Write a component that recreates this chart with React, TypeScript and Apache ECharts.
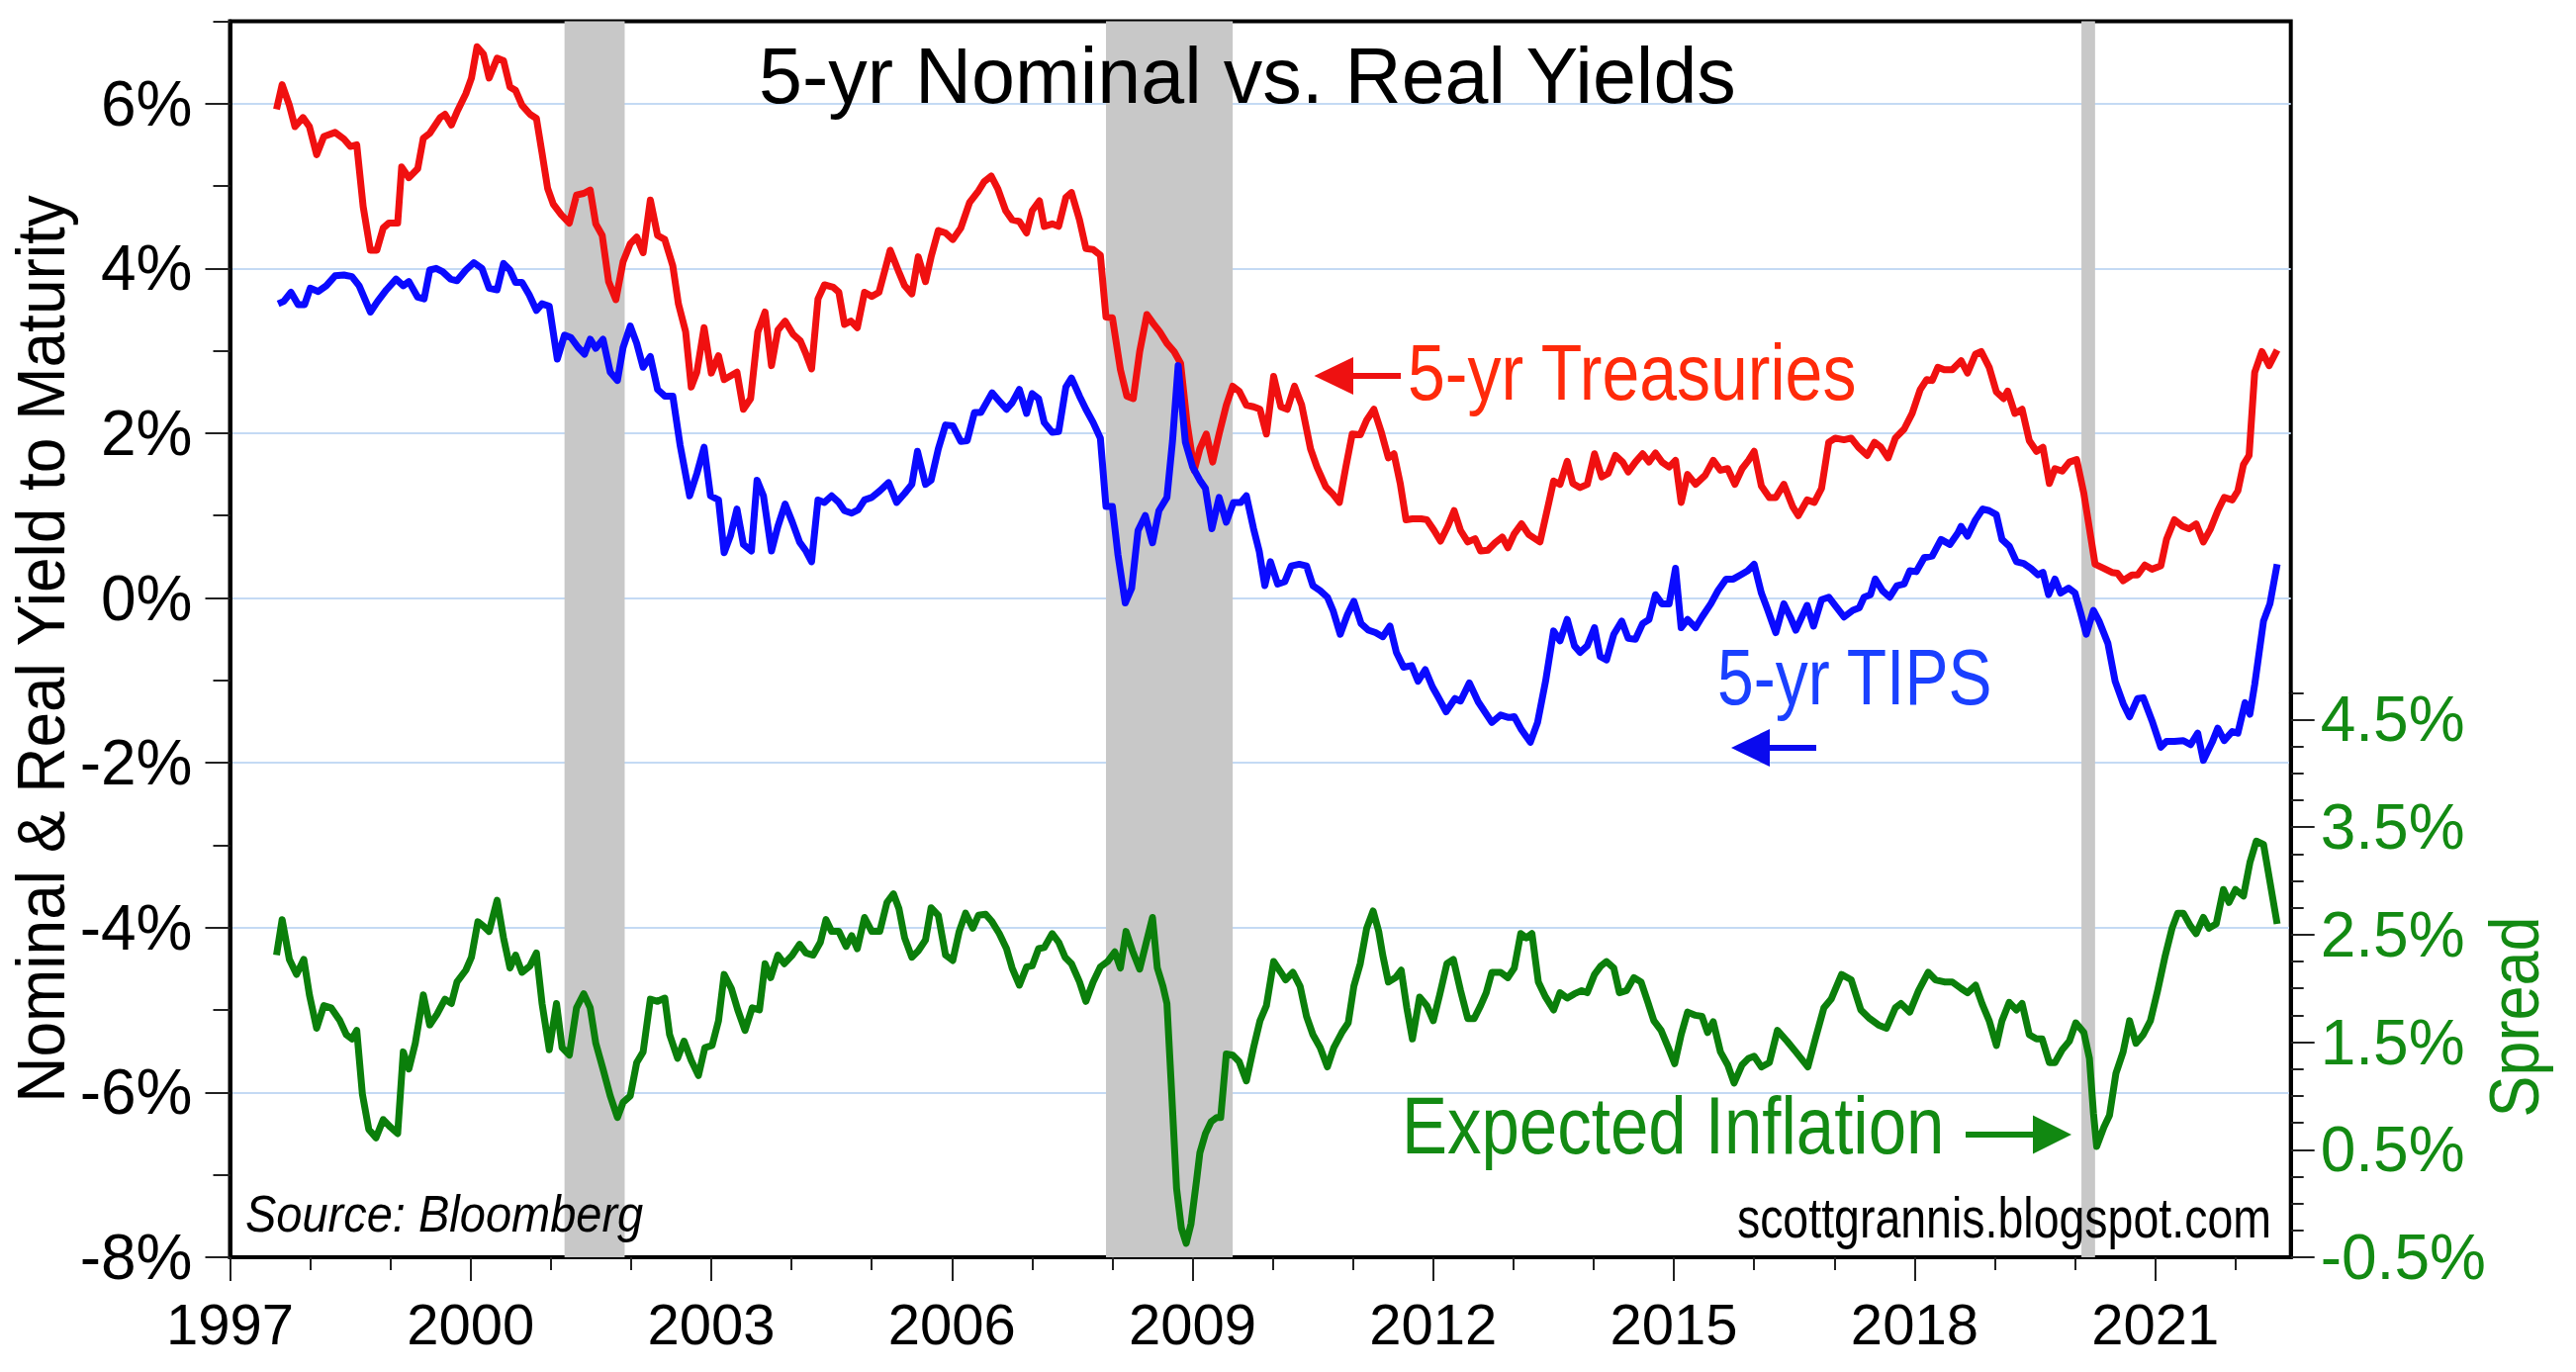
import React, { useEffect, useRef } from 'react';
import * as echarts from 'echarts';

// ---------------- data ----------------
const treasury: [number, number][] = [
  [1997.58,5.93],[1997.65,6.23],[1997.74,5.98],[1997.81,5.72],[1997.91,5.83],[1997.99,5.72],[1998.08,5.38],[1998.17,5.60],
  [1998.31,5.65],[1998.42,5.57],[1998.50,5.48],[1998.58,5.50],[1998.66,4.75],[1998.75,4.22],[1998.83,4.22],[1998.91,4.49],
  [1998.98,4.55],[1999.09,4.55],[1999.14,5.23],[1999.23,5.10],[1999.34,5.21],[1999.41,5.58],[1999.49,5.64],[1999.62,5.83],
  [1999.68,5.87],[1999.76,5.74],[1999.83,5.90],[1999.94,6.12],[2000.01,6.31],[2000.08,6.69],[2000.16,6.60],[2000.23,6.31],
  [2000.33,6.55],[2000.41,6.52],[2000.49,6.20],[2000.56,6.16],[2000.64,5.98],[2000.74,5.87],[2000.82,5.82],[2000.89,5.40],
  [2000.96,4.97],[2001.03,4.78],[2001.13,4.65],[2001.23,4.55],[2001.32,4.89],[2001.41,4.91],[2001.49,4.95],[2001.56,4.54],
  [2001.64,4.40],[2001.72,3.84],[2001.81,3.62],[2001.90,4.08],[2001.99,4.30],[2002.07,4.38],[2002.15,4.19],[2002.24,4.83],
  [2002.33,4.40],[2002.42,4.35],[2002.52,4.03],[2002.59,3.57],[2002.68,3.23],[2002.75,2.56],[2002.82,2.74],[2002.91,3.28],
  [2003.00,2.73],[2003.09,2.94],[2003.16,2.65],[2003.32,2.74],[2003.40,2.29],[2003.49,2.42],[2003.58,3.23],[2003.67,3.47],
  [2003.75,2.82],[2003.83,3.25],[2003.92,3.36],[2004.02,3.20],[2004.11,3.12],[2004.18,2.96],[2004.25,2.78],[2004.33,3.63],
  [2004.41,3.80],[2004.52,3.77],[2004.59,3.71],[2004.66,3.32],[2004.74,3.36],[2004.82,3.28],[2004.91,3.71],[2005.00,3.66],
  [2005.09,3.71],[2005.17,4.00],[2005.23,4.22],[2005.34,3.95],[2005.41,3.79],[2005.50,3.69],[2005.58,4.14],[2005.67,3.84],
  [2005.74,4.14],[2005.83,4.46],[2005.92,4.43],[2006.01,4.35],[2006.11,4.49],[2006.22,4.80],[2006.33,4.94],[2006.40,5.05],
  [2006.49,5.12],[2006.57,4.97],[2006.67,4.70],[2006.75,4.59],[2006.84,4.57],[2006.93,4.43],[2007.00,4.70],[2007.09,4.82],
  [2007.15,4.51],[2007.25,4.54],[2007.33,4.51],[2007.42,4.86],[2007.49,4.92],[2007.59,4.59],[2007.67,4.24],[2007.76,4.23],
  [2007.85,4.16],[2007.92,3.41],[2008.00,3.40],[2008.10,2.77],[2008.18,2.45],[2008.26,2.42],[2008.34,2.99],[2008.43,3.44],
  [2008.51,3.33],[2008.59,3.23],[2008.68,3.09],[2008.77,2.99],[2008.85,2.85],[2008.93,2.13],[2009.02,1.55],[2009.09,1.81],
  [2009.17,1.99],[2009.25,1.65],[2009.33,1.99],[2009.42,2.34],[2009.50,2.57],[2009.58,2.51],[2009.67,2.34],[2009.76,2.32],
  [2009.84,2.29],[2009.92,1.99],[2010.01,2.69],[2010.10,2.32],[2010.18,2.29],[2010.27,2.57],[2010.36,2.34],[2010.47,1.81],
  [2010.55,1.59],[2010.66,1.35],[2010.75,1.26],[2010.83,1.16],[2010.91,1.59],[2010.99,1.99],[2011.09,1.98],[2011.17,2.16],
  [2011.26,2.29],[2011.35,2.02],[2011.44,1.70],[2011.51,1.75],[2011.59,1.38],[2011.66,0.95],[2011.74,0.96],[2011.85,0.96],
  [2011.92,0.95],[2012.01,0.82],[2012.09,0.69],[2012.18,0.87],[2012.26,1.06],[2012.34,0.82],[2012.43,0.68],[2012.52,0.72],
  [2012.59,0.57],[2012.68,0.58],[2012.77,0.67],[2012.86,0.74],[2012.93,0.61],[2013.01,0.78],[2013.10,0.90],[2013.19,0.77],
  [2013.33,0.68],[2013.43,1.11],[2013.50,1.42],[2013.58,1.38],[2013.67,1.66],[2013.74,1.39],[2013.83,1.34],[2013.92,1.38],
  [2014.01,1.75],[2014.10,1.47],[2014.18,1.51],[2014.27,1.73],[2014.36,1.65],[2014.43,1.53],[2014.52,1.65],[2014.61,1.75],
  [2014.69,1.65],[2014.77,1.76],[2014.85,1.65],[2014.94,1.59],[2015.02,1.67],[2015.09,1.16],[2015.17,1.50],[2015.27,1.38],
  [2015.39,1.49],[2015.49,1.67],[2015.58,1.55],[2015.67,1.57],[2015.76,1.38],[2015.85,1.57],[2015.93,1.67],[2016.00,1.78],
  [2016.09,1.36],[2016.19,1.22],[2016.27,1.22],[2016.37,1.38],[2016.48,1.11],[2016.55,1.00],[2016.66,1.19],[2016.75,1.16],
  [2016.84,1.33],[2016.93,1.89],[2017.01,1.94],[2017.12,1.92],[2017.21,1.94],[2017.30,1.83],[2017.41,1.73],[2017.50,1.89],
  [2017.58,1.83],[2017.67,1.70],[2017.76,1.94],[2017.87,2.05],[2017.97,2.24],[2018.07,2.53],[2018.15,2.65],[2018.22,2.64],
  [2018.29,2.80],[2018.37,2.77],[2018.47,2.77],[2018.58,2.88],[2018.66,2.73],[2018.76,2.96],[2018.83,2.99],[2018.93,2.80],
  [2019.02,2.50],[2019.11,2.42],[2019.16,2.51],[2019.25,2.24],[2019.34,2.29],[2019.43,1.91],[2019.52,1.78],[2019.60,1.83],
  [2019.68,1.39],[2019.75,1.57],[2019.84,1.54],[2019.93,1.65],[2020.02,1.68],[2020.11,1.27],[2020.18,0.84],[2020.25,0.41],
  [2020.36,0.36],[2020.46,0.31],[2020.53,0.30],[2020.60,0.21],[2020.71,0.28],[2020.78,0.28],[2020.87,0.40],[2020.96,0.35],
  [2021.07,0.39],[2021.14,0.71],[2021.24,0.95],[2021.34,0.87],[2021.42,0.84],[2021.51,0.90],[2021.60,0.68],[2021.69,0.84],
  [2021.78,1.06],[2021.86,1.22],[2021.96,1.19],[2022.03,1.30],[2022.10,1.62],[2022.17,1.73],[2022.24,2.74],[2022.33,2.99],
  [2022.42,2.82],[2022.52,3.01]
];

const tips: [number, number][] = [
  [1997.60,3.57],[1997.67,3.60],[1997.76,3.71],[1997.85,3.56],[1997.93,3.56],[1998.00,3.76],[1998.10,3.72],[1998.20,3.79],
  [1998.31,3.91],[1998.42,3.92],[1998.52,3.90],[1998.61,3.79],[1998.68,3.63],[1998.75,3.47],[1998.84,3.60],[1998.95,3.74],
  [1999.07,3.87],[1999.16,3.79],[1999.23,3.84],[1999.34,3.65],[1999.42,3.63],[1999.49,3.98],[1999.57,4.00],[1999.65,3.96],
  [1999.75,3.87],[1999.83,3.85],[1999.94,3.98],[2000.04,4.07],[2000.14,4.00],[2000.23,3.76],[2000.33,3.74],[2000.41,4.06],
  [2000.49,3.98],[2000.56,3.83],[2000.64,3.83],[2000.73,3.68],[2000.82,3.49],[2000.89,3.57],[2000.98,3.54],[2001.08,2.90],
  [2001.17,3.19],[2001.25,3.16],[2001.34,3.04],[2001.42,2.96],[2001.49,3.14],[2001.56,3.03],[2001.65,3.14],[2001.74,2.74],
  [2001.83,2.64],[2001.90,3.04],[2001.99,3.30],[2002.07,3.09],[2002.15,2.80],[2002.24,2.93],[2002.33,2.53],[2002.42,2.45],
  [2002.52,2.45],[2002.61,1.86],[2002.73,1.24],[2002.82,1.51],[2002.91,1.83],[2002.99,1.24],[2003.09,1.19],[2003.16,0.55],
  [2003.24,0.76],[2003.32,1.08],[2003.40,0.65],[2003.50,0.57],[2003.57,1.43],[2003.65,1.24],[2003.75,0.57],[2003.83,0.87],
  [2003.92,1.14],[2004.01,0.92],[2004.10,0.68],[2004.18,0.57],[2004.25,0.44],[2004.33,1.19],[2004.41,1.16],[2004.50,1.24],
  [2004.59,1.16],[2004.66,1.06],[2004.75,1.03],[2004.83,1.07],[2004.91,1.19],[2005.00,1.22],[2005.10,1.30],[2005.21,1.40],
  [2005.31,1.16],[2005.41,1.27],[2005.50,1.38],[2005.57,1.78],[2005.67,1.38],[2005.74,1.43],[2005.83,1.81],[2005.92,2.10],
  [2006.01,2.09],[2006.11,1.90],[2006.19,1.91],[2006.28,2.25],[2006.36,2.25],[2006.43,2.37],[2006.50,2.49],[2006.59,2.39],
  [2006.68,2.29],[2006.75,2.37],[2006.84,2.53],[2006.93,2.24],[2007.00,2.48],[2007.08,2.42],[2007.15,2.13],[2007.25,2.01],
  [2007.33,2.02],[2007.42,2.56],[2007.49,2.67],[2007.59,2.45],[2007.67,2.29],[2007.76,2.13],[2007.85,1.94],[2007.92,1.11],
  [2008.00,1.11],[2008.07,0.52],[2008.16,-0.06],[2008.24,0.12],[2008.32,0.82],[2008.41,1.00],[2008.50,0.67],[2008.58,1.06],
  [2008.68,1.22],[2008.75,1.91],[2008.82,2.82],[2008.91,1.89],[2009.00,1.59],[2009.09,1.43],[2009.16,1.33],[2009.24,0.84],
  [2009.33,1.22],[2009.42,0.92],[2009.51,1.16],[2009.60,1.16],[2009.67,1.24],[2009.76,0.84],[2009.83,0.57],[2009.90,0.15],
  [2009.97,0.44],[2010.06,0.17],[2010.15,0.20],[2010.23,0.39],[2010.33,0.41],[2010.42,0.39],[2010.50,0.15],[2010.59,0.09],
  [2010.68,0.01],[2010.75,-0.15],[2010.84,-0.44],[2010.93,-0.20],[2011.01,-0.04],[2011.10,-0.31],[2011.19,-0.39],[2011.28,-0.42],
  [2011.37,-0.47],[2011.46,-0.34],[2011.54,-0.66],[2011.63,-0.84],[2011.73,-0.82],[2011.81,-1.01],[2011.90,-0.87],[2011.99,-1.08],
  [2012.06,-1.20],[2012.16,-1.38],[2012.27,-1.22],[2012.34,-1.25],[2012.45,-1.03],[2012.56,-1.26],[2012.73,-1.51],[2012.84,-1.42],
  [2012.94,-1.45],[2013.01,-1.44],[2013.10,-1.60],[2013.21,-1.75],[2013.30,-1.51],[2013.40,-1.01],[2013.50,-0.40],[2013.58,-0.52],
  [2013.67,-0.26],[2013.76,-0.58],[2013.83,-0.66],[2013.92,-0.58],[2014.01,-0.36],[2014.08,-0.71],[2014.16,-0.75],[2014.25,-0.44],
  [2014.35,-0.28],[2014.43,-0.49],[2014.52,-0.50],[2014.61,-0.31],[2014.69,-0.26],[2014.77,0.04],[2014.85,-0.07],[2014.94,-0.07],
  [2015.02,0.36],[2015.09,-0.36],[2015.17,-0.26],[2015.27,-0.36],[2015.35,-0.23],[2015.46,-0.07],[2015.55,0.09],[2015.65,0.23],
  [2015.74,0.23],[2015.83,0.28],[2015.92,0.33],[2016.00,0.41],[2016.09,0.06],[2016.16,-0.12],[2016.27,-0.42],[2016.37,-0.07],
  [2016.45,-0.23],[2016.52,-0.39],[2016.66,-0.09],[2016.74,-0.34],[2016.84,-0.02],[2016.93,0.01],[2017.01,-0.09],[2017.12,-0.23],
  [2017.23,-0.15],[2017.31,-0.12],[2017.37,0.01],[2017.45,0.04],[2017.51,0.23],[2017.60,0.09],[2017.69,0.01],[2017.78,0.15],
  [2017.87,0.17],[2017.94,0.33],[2018.02,0.32],[2018.12,0.49],[2018.22,0.51],[2018.33,0.71],[2018.44,0.65],[2018.54,0.79],
  [2018.58,0.87],[2018.66,0.75],[2018.76,0.95],[2018.85,1.08],[2018.93,1.06],[2019.02,1.01],[2019.09,0.71],[2019.18,0.63],
  [2019.27,0.44],[2019.36,0.42],[2019.45,0.36],[2019.54,0.28],[2019.60,0.31],[2019.67,0.04],[2019.75,0.23],[2019.82,0.06],
  [2019.92,0.12],[2020.00,0.06],[2020.07,-0.18],[2020.14,-0.44],[2020.23,-0.15],[2020.30,-0.28],[2020.41,-0.55],[2020.50,-1.01],
  [2020.60,-1.28],[2020.68,-1.44],[2020.78,-1.22],[2020.85,-1.21],[2020.96,-1.49],[2021.07,-1.81],[2021.14,-1.74],[2021.24,-1.74],
  [2021.35,-1.73],[2021.44,-1.78],[2021.53,-1.64],[2021.60,-1.97],[2021.71,-1.75],[2021.78,-1.58],[2021.86,-1.73],[2021.96,-1.62],
  [2022.03,-1.64],[2022.12,-1.27],[2022.18,-1.41],[2022.24,-1.05],[2022.35,-0.28],[2022.43,-0.07],[2022.52,0.41]
];

const spread: [number, number][] = [
  [1997.58,2.31],[1997.65,2.64],[1997.74,2.27],[1997.83,2.13],[1997.92,2.27],[1997.99,1.94],[1998.08,1.63],[1998.17,1.84],
  [1998.26,1.82],[1998.37,1.70],[1998.45,1.57],[1998.52,1.53],[1998.58,1.61],[1998.65,1.02],[1998.73,0.69],[1998.82,0.61],
  [1998.91,0.78],[1999.00,0.71],[1999.09,0.65],[1999.16,1.41],[1999.23,1.25],[1999.31,1.49],[1999.41,1.94],[1999.49,1.66],
  [1999.58,1.76],[1999.68,1.90],[1999.76,1.86],[1999.83,2.06],[1999.94,2.17],[2000.01,2.29],[2000.09,2.62],[2000.16,2.58],
  [2000.23,2.53],[2000.33,2.82],[2000.41,2.47],[2000.49,2.19],[2000.56,2.31],[2000.64,2.15],[2000.74,2.21],[2000.82,2.33],
  [2000.89,1.86],[2000.98,1.43],[2001.07,1.86],[2001.14,1.45],[2001.23,1.38],[2001.32,1.82],[2001.41,1.95],[2001.49,1.82],
  [2001.56,1.49],[2001.65,1.25],[2001.74,1.00],[2001.83,0.80],[2001.90,0.94],[2001.99,1.00],[2002.07,1.31],[2002.15,1.41],
  [2002.24,1.90],[2002.33,1.88],[2002.42,1.91],[2002.48,1.57],[2002.58,1.35],[2002.66,1.51],[2002.75,1.33],[2002.84,1.19],
  [2002.92,1.45],[2003.01,1.47],[2003.09,1.70],[2003.16,2.13],[2003.25,2.00],[2003.33,1.80],[2003.42,1.61],[2003.51,1.82],
  [2003.60,1.80],[2003.67,2.23],[2003.74,2.10],[2003.83,2.31],[2003.91,2.23],[2004.01,2.31],[2004.10,2.41],[2004.18,2.33],
  [2004.27,2.31],[2004.36,2.43],[2004.43,2.64],[2004.50,2.53],[2004.59,2.53],[2004.68,2.39],[2004.75,2.49],[2004.82,2.37],
  [2004.91,2.66],[2005.00,2.53],[2005.10,2.53],[2005.19,2.80],[2005.27,2.88],[2005.34,2.74],[2005.41,2.47],[2005.50,2.29],
  [2005.58,2.35],[2005.67,2.45],[2005.74,2.75],[2005.83,2.68],[2005.92,2.31],[2006.01,2.26],[2006.09,2.53],[2006.17,2.70],
  [2006.26,2.56],[2006.33,2.68],[2006.42,2.69],[2006.50,2.62],[2006.59,2.51],[2006.68,2.37],[2006.75,2.19],[2006.84,2.03],
  [2006.93,2.20],[2007.00,2.21],[2007.08,2.37],[2007.15,2.38],[2007.25,2.51],[2007.33,2.43],[2007.41,2.29],[2007.49,2.23],
  [2007.59,2.06],[2007.67,1.88],[2007.76,2.06],[2007.85,2.20],[2007.94,2.25],[2008.03,2.34],[2008.10,2.19],[2008.17,2.53],
  [2008.25,2.35],[2008.34,2.18],[2008.41,2.39],[2008.50,2.66],[2008.56,2.19],[2008.63,2.02],[2008.68,1.86],[2008.73,1.16],
  [2008.80,0.14],[2008.86,-0.23],[2008.92,-0.37],[2008.98,-0.19],[2009.05,0.22],[2009.09,0.47],[2009.16,0.65],[2009.23,0.76],
  [2009.30,0.80],[2009.35,0.80],[2009.42,1.39],[2009.50,1.38],[2009.58,1.32],[2009.67,1.14],[2009.76,1.45],[2009.84,1.70],
  [2009.92,1.84],[2010.01,2.25],[2010.10,2.15],[2010.16,2.08],[2010.25,2.15],[2010.34,2.02],[2010.42,1.74],[2010.50,1.57],
  [2010.59,1.45],[2010.68,1.27],[2010.76,1.45],[2010.86,1.59],[2010.94,1.68],[2011.01,2.02],[2011.09,2.23],[2011.17,2.56],
  [2011.25,2.72],[2011.32,2.53],[2011.37,2.31],[2011.44,2.06],[2011.53,2.10],[2011.60,2.17],[2011.67,1.82],[2011.74,1.53],
  [2011.83,1.92],[2011.92,1.84],[2012.00,1.70],[2012.08,1.94],[2012.17,2.23],[2012.25,2.27],[2012.34,1.98],[2012.43,1.72],
  [2012.51,1.72],[2012.59,1.84],[2012.66,1.96],[2012.73,2.15],[2012.84,2.15],[2012.93,2.10],[2013.01,2.19],[2013.09,2.51],
  [2013.16,2.47],[2013.23,2.51],[2013.31,2.06],[2013.40,1.92],[2013.50,1.80],[2013.58,1.96],[2013.67,1.91],[2013.76,1.95],
  [2013.85,1.98],[2013.92,1.96],[2014.01,2.13],[2014.09,2.21],[2014.16,2.25],[2014.25,2.19],[2014.32,1.96],[2014.41,1.98],
  [2014.50,2.10],[2014.59,2.06],[2014.68,1.86],[2014.75,1.70],[2014.84,1.61],[2014.93,1.45],[2015.01,1.30],[2015.09,1.57],
  [2015.17,1.78],[2015.27,1.75],[2015.35,1.74],[2015.42,1.59],[2015.49,1.69],[2015.58,1.41],[2015.67,1.29],[2015.75,1.12],
  [2015.85,1.29],[2015.93,1.35],[2016.00,1.37],[2016.09,1.27],[2016.19,1.31],[2016.29,1.61],[2016.41,1.51],[2016.52,1.41],
  [2016.67,1.27],[2016.77,1.55],[2016.87,1.82],[2016.96,1.90],[2017.09,2.13],[2017.21,2.08],[2017.33,1.80],[2017.44,1.72],
  [2017.55,1.66],[2017.65,1.63],[2017.76,1.82],[2017.83,1.86],[2017.94,1.78],[2018.05,1.98],[2018.17,2.15],[2018.26,2.08],
  [2018.37,2.06],[2018.47,2.06],[2018.58,2.00],[2018.66,1.96],[2018.76,2.03],[2018.84,1.86],[2018.93,1.70],[2019.02,1.47],
  [2019.09,1.70],[2019.18,1.87],[2019.27,1.80],[2019.34,1.86],[2019.43,1.57],[2019.52,1.53],[2019.59,1.53],[2019.68,1.31],
  [2019.75,1.31],[2019.84,1.43],[2019.93,1.51],[2020.01,1.68],[2020.11,1.59],[2020.18,1.35],[2020.23,0.84],[2020.27,0.53],
  [2020.36,0.71],[2020.43,0.82],[2020.51,1.21],[2020.60,1.41],[2020.68,1.70],[2020.76,1.49],[2020.85,1.57],[2020.94,1.70],
  [2021.03,1.98],[2021.12,2.29],[2021.21,2.56],[2021.28,2.70],[2021.35,2.70],[2021.44,2.58],[2021.51,2.51],[2021.60,2.66],
  [2021.67,2.56],[2021.76,2.60],[2021.85,2.92],[2021.92,2.80],[2022.00,2.92],[2022.10,2.86],[2022.18,3.17],[2022.26,3.37],
  [2022.35,3.34],[2022.52,2.60]
];

const recessions: [number, number][] = [[2001.17, 2001.92], [2007.92, 2009.5], [2020.08, 2020.25]];

const yearLabels = [1997, 2000, 2003, 2006, 2009, 2012, 2015, 2018, 2021];
const yearMinor = [1998, 1999, 2001, 2002, 2004, 2005, 2007, 2008, 2010, 2011, 2013, 2014, 2016, 2017, 2019, 2020, 2022];
const leftMajor = [-8, -6, -4, -2, 0, 2, 4, 6];
const leftMinor = [-7, -5, -3, -1, 1, 3, 5, 7];
const rightMajor = [-0.5, 0.5, 1.5, 2.5, 3.5, 4.5];
const rightMinor = [-0.25, 0, 0.25, 0.75, 1, 1.25, 1.75, 2, 2.25, 2.75, 3, 3.25, 3.75, 4, 4.25, 4.75];

// ---------------- layout ----------------
const FONT = "'Liberation Sans', Arial, Helvetica, sans-serif";
const PL = 232.5, PT = 21.4, PR = 2315.7, PB = 1271;
const G1T = 700.3;
const XMIN = 1997, XMAX = 2022.69;
const RED = '#f01010', BLUE = '#0a0aff', GREEN = '#0b7f0b';
const LW = 7;

function txt(x: number, y: number, text: string, size: number, color: string, o: any = {}) {
  return {
    type: 'text', x, y, z: 100, rotation: o.rot || 0, scaleY: o.sy || 1,
    style: {
      text, fill: color, fontSize: size, fontFamily: FONT, fontStyle: o.italic ? 'italic' : 'normal',
      textAlign: o.align || 'left', align: o.align || 'left',
      textVerticalAlign: 'middle', verticalAlign: 'middle'
    }
  };
}
function arrow(tipX: number, baseX: number, endX: number, y: number, half: number, color: string) {
  return [
    { type: 'line', z: 100, shape: { x1: baseX, y1: y, x2: endX, y2: y }, style: { stroke: color, lineWidth: 6 } },
    { type: 'polygon', z: 100, shape: { points: [[tipX, y], [baseX, y - half], [baseX, y + half]] }, style: { fill: color } }
  ];
}

const tickStyle = { color: '#222', width: 2 };

export default function App() {
  const ref = useRef<HTMLDivElement>(null);
  useEffect(() => {
    if (!ref.current) return;
    const chart = echarts.init(ref.current, undefined, { renderer: 'svg' });
    const option: any = {
      animation: false,
      backgroundColor: '#ffffff',
      grid: [
        { left: PL, top: PT, width: PR - PL, height: PB - PT, show: true, borderColor: '#000', borderWidth: 4, backgroundColor: 'transparent' },
        { left: PL, top: G1T, width: PR - PL, height: PB - G1T, show: false }
      ],
      xAxis: [
        {
          type: 'value', gridIndex: 0, min: XMIN, max: XMAX, position: 'bottom',
          axisLine: { show: true, onZero: false, lineStyle: { color: '#000', width: 4 } },
          axisTick: { show: true, customValues: yearLabels, length: 24, lineStyle: tickStyle },
          axisLabel: { show: true, customValues: yearLabels, margin: 38, color: '#000', fontSize: 58, fontFamily: FONT, formatter: (v: number) => String(v) },
          splitLine: { show: false }
        },
        { type: 'value', gridIndex: 1, min: XMIN, max: XMAX, show: false, axisLine: { onZero: false } },
        {
          type: 'value', gridIndex: 0, min: XMIN, max: XMAX, position: 'bottom',
          axisLine: { show: false, onZero: false },
          axisTick: { show: true, customValues: yearMinor, length: 13, lineStyle: tickStyle },
          axisLabel: { show: false }, splitLine: { show: false }
        }
      ],
      yAxis: [
        {
          type: 'value', gridIndex: 0, min: -8, max: 7, interval: 2, position: 'left',
          axisLine: { show: true, onZero: false, lineStyle: { color: '#000', width: 4 } },
          axisTick: { show: true, customValues: leftMajor, length: 25, lineStyle: tickStyle },
          axisLabel: { show: true, customValues: leftMajor, margin: 38, color: '#000', fontSize: 64, fontFamily: FONT, formatter: (v: number) => v + '%' },
          splitLine: { show: true, lineStyle: { color: '#c4daf4', width: 2 } }
        },
        {
          type: 'value', gridIndex: 1, min: -0.5, max: 4.75, position: 'right',
          axisLine: { show: true, onZero: false, lineStyle: { color: '#000', width: 4 } },
          axisTick: { show: true, customValues: rightMajor, length: 24, lineStyle: tickStyle },
          axisLabel: { show: true, customValues: rightMajor, margin: 30, color: '#138a13', fontSize: 64, fontFamily: FONT, formatter: (v: number) => v.toFixed(1) + '%' },
          splitLine: { show: false }
        },
        {
          type: 'value', gridIndex: 0, min: -8, max: 7, position: 'left',
          axisLine: { show: false, onZero: false },
          axisTick: { show: true, customValues: leftMinor, length: 17, lineStyle: tickStyle },
          axisLabel: { show: false }, splitLine: { show: false }
        },
        {
          type: 'value', gridIndex: 1, min: -0.5, max: 4.75, position: 'right',
          axisLine: { show: false, onZero: false },
          axisTick: { show: true, customValues: rightMinor, length: 13, lineStyle: tickStyle },
          axisLabel: { show: false }, splitLine: { show: false }
        }
      ],
      series: [
        {
          type: 'line', name: '5-yr Treasuries', xAxisIndex: 0, yAxisIndex: 0, data: treasury,
          symbol: 'none', showSymbol: false, z: 3,
          lineStyle: { color: RED, width: LW, join: 'round' },
          markArea: {
            silent: true, z: 1,
            itemStyle: { color: '#c8c8c8' },
            data: recessions.map(([a, b]) => [{ xAxis: a }, { xAxis: b }])
          }
        },
        {
          type: 'line', name: '5-yr TIPS', xAxisIndex: 0, yAxisIndex: 0, data: tips,
          symbol: 'none', showSymbol: false, z: 3,
          lineStyle: { color: BLUE, width: LW, join: 'round' }
        },
        {
          type: 'line', name: 'Expected Inflation', xAxisIndex: 1, yAxisIndex: 1, data: spread,
          symbol: 'none', showSymbol: false, z: 3,
          lineStyle: { color: GREEN, width: LW, join: 'round' }
        }
      ],
      graphic: {
        elements: [
          txt(767, 76, '5-yr Nominal vs. Real Yields', 79, '#000'),
          txt(1423, 377, '5-yr Treasuries', 68, '#ff2a0a', { sy: 1.17 }),
          ...arrow(1328.5, 1368, 1416, 380, 19, '#ee1111'),
          txt(1736, 684, '5-yr TIPS', 66, '#1a40ff', { sy: 1.2 }),
          ...arrow(1750, 1789, 1836, 756, 19, '#0a0aee'),
          txt(1417, 1138, 'Expected Inflation', 69, '#138a13', { sy: 1.17 }),
          ...arrow(2094, 2055, 1987, 1147, 19.5, '#118811'),
          txt(248, 1227, 'Source: Bloomberg', 47, '#000', { italic: true, sy: 1.1 }),
          txt(2296, 1231, 'scottgrannis.blogspot.com', 46.5, '#000', { align: 'right', sy: 1.22 }),
          txt(41, 656, 'Nominal & Real Yield to Maturity', 64, '#000', { align: 'center', rot: Math.PI / 2, sy: 1.08 }),
          txt(2541, 1028, 'Spread', 63, '#138a13', { align: 'center', rot: Math.PI / 2, sy: 1.12 })
        ]
      }
    };
    chart.setOption(option);
    return () => chart.dispose();
  }, []);
  return <div ref={ref} style={{ position: 'absolute', left: 0, top: 0, width: 2604, height: 1387, background: '#fff' }} />;
}
